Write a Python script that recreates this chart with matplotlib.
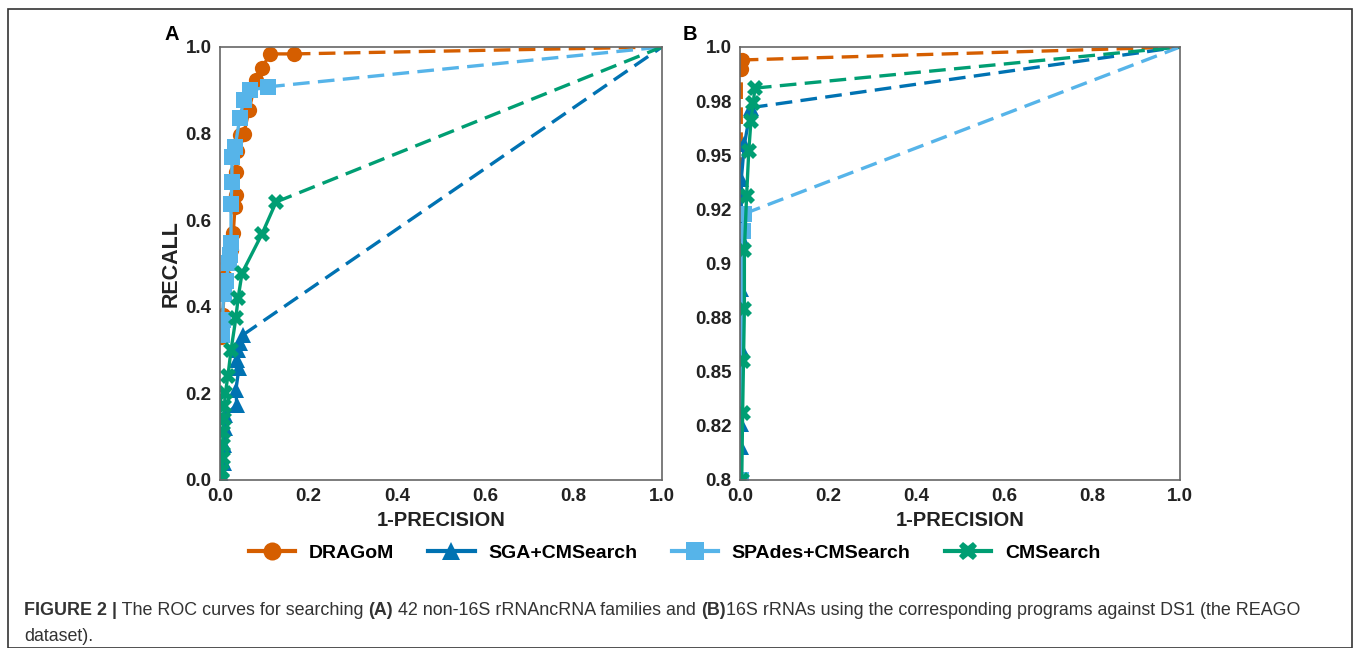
import matplotlib.pyplot as plt
from matplotlib.lines import Line2D
from matplotlib.patches import Rectangle

plt.rcParams['font.family'] = ['Liberation Sans', 'DejaVu Sans']

# ---- panel A: 42 non-16S rRNA ncRNA families ----
a_dragom_x = [0.003, 0.006, 0.010, 0.012, 0.018, 0.024, 0.030, 0.034, 0.036, 0.036, 0.038, 0.045, 0.054, 0.066, 0.081, 0.095, 0.113, 0.167]
a_dragom_y = [0.330, 0.380, 0.440, 0.469, 0.500, 0.530, 0.570, 0.630, 0.658, 0.711, 0.760, 0.797, 0.800, 0.855, 0.924, 0.951, 0.984, 0.984]
a_sga_x = [0.008, 0.010, 0.010, 0.012, 0.012, 0.038, 0.036, 0.043, 0.038, 0.040, 0.045, 0.052]
a_sga_y = [0.000, 0.040, 0.080, 0.120, 0.150, 0.173, 0.208, 0.259, 0.277, 0.300, 0.316, 0.335]
a_spades_x = [0.005, 0.006, 0.008, 0.014, 0.020, 0.022, 0.025, 0.025, 0.027, 0.027, 0.034, 0.045, 0.054, 0.068, 0.109]
a_spades_y = [0.335, 0.370, 0.430, 0.460, 0.500, 0.520, 0.547, 0.637, 0.688, 0.746, 0.769, 0.836, 0.878, 0.900, 0.908]
a_cms_x = [0.005, 0.005, 0.006, 0.006, 0.007, 0.008, 0.010, 0.012, 0.018, 0.025, 0.036, 0.041, 0.050, 0.095, 0.127]
a_cms_y = [0.000, 0.020, 0.050, 0.080, 0.110, 0.140, 0.170, 0.200, 0.240, 0.300, 0.374, 0.420, 0.478, 0.568, 0.642]

# ---- panel B: 16S rRNAs ----
b_dragom_x = [0.000, 0.003, 0.004]
b_dragom_y = [0.000, 0.990, 0.994]
b_sga_x = [0.003, 0.003, 0.003, 0.003, 0.003, 0.003, 0.003, 0.010, 0.025]
b_sga_y = [0.800, 0.815, 0.826, 0.861, 0.888, 0.912, 0.939, 0.955, 0.972]
b_spades_x = [0.003, 0.006, 0.010]
b_spades_y = [0.800, 0.915, 0.923]
b_cms_x = [0.004, 0.006, 0.008, 0.010, 0.010, 0.015, 0.020, 0.025, 0.030, 0.034]
b_cms_y = [0.800, 0.831, 0.855, 0.879, 0.906, 0.931, 0.952, 0.966, 0.974, 0.981]

names = ['DRAGoM', 'SGA+CMSearch', 'SPAdes+CMSearch', 'CMSearch']
colors = ['#D55E00', '#0072B2', '#56B4E9', '#009E73']
markers = ['o', '^', 's', 'X']

b_ticks = [0.8, 0.825, 0.85, 0.875, 0.9, 0.925, 0.95, 0.975, 1.0]
b_ticklabels = ['0.8', '0.82', '0.85', '0.88', '0.9', '0.92', '0.95', '0.98', '1.0']
ab_xticks = [0.0, 0.2, 0.4, 0.6, 0.8, 1.0]
a_yticks = [0.0, 0.2, 0.4, 0.6, 0.8, 1.0]

fig = plt.figure(figsize=(13.57, 6.48), dpi=100)
axA = fig.add_axes([0.1621, 0.2593, 0.3257, 0.6682])
axB = fig.add_axes([0.5453, 0.2593, 0.3243, 0.6682])

dash = (5, 2.5)


def draw_curves(ax, series):
    for (xs, ys), c, m in zip(series, colors, markers):
        # solid segment through the operating points, dashed tail to (1, 1)
        ax.plot(xs, ys, color=c, lw=2.4, marker=m, ms=11 if m != 'X' else 12,
                markeredgewidth=0)
        ax.plot([xs[-1], 1.0], [ys[-1], 1.0], color=c, lw=2.4, dashes=dash)


draw_curves(axA, [(a_dragom_x, a_dragom_y), (a_sga_x, a_sga_y),
                  (a_spades_x, a_spades_y), (a_cms_x, a_cms_y)])
# orange dashed drop towards the origin in panel B
axB.plot(b_dragom_x[:2], b_dragom_y[:2], color=colors[0], lw=2.4, dashes=dash)
draw_curves(axB, [(b_dragom_x[1:], b_dragom_y[1:]), (b_sga_x, b_sga_y),
                  (b_spades_x, b_spades_y), (b_cms_x, b_cms_y)])

for ax in (axA, axB):
    ax.set_xlim(0, 1)
    ax.set_xticks(ab_xticks)
    ax.set_xticklabels(['%.1f' % t for t in ab_xticks])
    ax.tick_params(length=0, labelsize=13.5, pad=6)
    for sp in ax.spines.values():
        sp.set_color('#666666')
        sp.set_linewidth(1.2)
    ax.set_xlabel('1-PRECISION', fontsize=14.5, fontweight='bold', color='#222222', labelpad=4)

axA.set_ylim(0, 1)
axA.set_yticks(a_yticks)
axA.set_yticklabels(['%.1f' % t for t in a_yticks])
axA.set_ylabel('RECALL', fontsize=15.5, fontweight='bold', color='#222222', labelpad=3)
axB.set_ylim(0.8, 1.0)
axB.set_yticks(b_ticks)
axB.set_yticklabels(b_ticklabels)

for ax in (axA, axB):
    for lab in ax.get_xticklabels() + ax.get_yticklabels():
        lab.set_fontweight('bold')
        lab.set_color('#222222')

fig.text(172 / 1357, 1 - 35 / 648, 'A', fontsize=14.5, fontweight='bold', ha='center', va='center')
fig.text(690 / 1357, 1 - 35 / 648, 'B', fontsize=14.5, fontweight='bold', ha='center', va='center')

handles = [Line2D([], [], color=c, lw=3, marker=m, ms=13, markeredgewidth=0)
           for c, m in zip(colors, markers)]
fig.legend(handles, names, loc='center', bbox_to_anchor=(0.497, 1 - 553 / 648), ncol=4,
           frameon=False, prop={'weight': 'bold', 'size': 14}, handlelength=2.4,
           handletextpad=0.7, columnspacing=1.75, numpoints=1)

# outer frame of the figure panel
fig.patches.append(Rectangle((8 / 1357, 0), 1344 / 1357, 1 - 9 / 648, transform=fig.transFigure,
                             fill=False, edgecolor='#333333', lw=1.2))

# caption with bold pieces, chained one after the other
pieces = [('FIGURE 2 |', 'bold'), (' The ROC curves for searching ', 'normal'), ('(A)', 'bold'),
          (' 42 non-16S rRNAncRNA families and ', 'normal'), ('(B)', 'bold'),
          ('16S rRNAs using the corresponding programs against DS1 (the REAGO', 'normal')]
cap_size = 12.9
anchor = fig.text(24 / 1357, 1 - 619 / 648, pieces[0][0], fontsize=cap_size,
                  fontweight=pieces[0][1], color='#333333', va='bottom')
for txt, w in pieces[1:]:
    anchor = axA.annotate(txt, xy=(1, 0), xycoords=anchor, va='bottom', fontsize=cap_size,
                          fontweight=w, color='#333333', annotation_clip=False)
fig.text(24 / 1357, 1 - 645 / 648, 'dataset).', fontsize=cap_size, color='#333333', va='bottom')

fig.savefig('out.png', dpi=100)
